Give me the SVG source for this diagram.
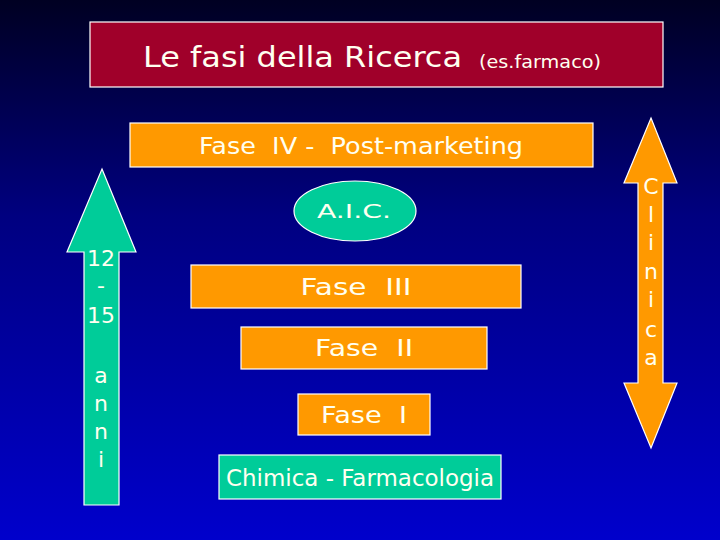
<svg xmlns="http://www.w3.org/2000/svg" width="720" height="540" viewBox="0 0 720 540">
<defs>
<linearGradient id="bg" x1="0" y1="0" x2="0" y2="1">
<stop offset="0" stop-color="#000022"/>
<stop offset="0.4" stop-color="#000080"/>
<stop offset="1" stop-color="#0000CC"/>
</linearGradient>
<style>
.t{font-family:"Comic Sans MS","DejaVu Sans",sans-serif;fill:#FFFFF0;text-anchor:middle}
.box{stroke:#FFFFFF;stroke-width:1.2}
.or{fill:#FF9900}
.gr{fill:#00CC99}
</style>
</defs>
<rect width="720" height="540" fill="url(#bg)"/>
<g id="title">
<rect class="box" x="90" y="22" width="573" height="65" fill="#A0002A"/>
<text class="t" x="302.5" y="67" font-size="29" textLength="319" lengthAdjust="spacingAndGlyphs">Le fasi della Ricerca</text>
<text class="t" x="540" y="68" font-size="18" textLength="122" lengthAdjust="spacingAndGlyphs">(es.farmaco)</text>
</g>
<g id="fase4">
<rect class="box or" x="130" y="123" width="463" height="44"/>
<text class="t" x="361" y="154" font-size="22.5" xml:space="preserve" textLength="324" lengthAdjust="spacingAndGlyphs">Fase  IV -  Post-marketing</text>
</g>
<g id="aic">
<ellipse class="box gr" cx="355" cy="211" rx="61" ry="30"/>
<text class="t" x="354" y="218" font-size="20" textLength="74" lengthAdjust="spacingAndGlyphs">A.I.C.</text>
</g>
<g id="fase3">
<rect class="box or" x="191" y="265" width="330" height="43"/>
<text class="t" x="356" y="295" font-size="22.5" xml:space="preserve" textLength="111" lengthAdjust="spacingAndGlyphs">Fase  III</text>
</g>
<g id="fase2">
<rect class="box or" x="241" y="327" width="246" height="42"/>
<text class="t" x="364" y="356" font-size="22.5" xml:space="preserve" textLength="98" lengthAdjust="spacingAndGlyphs">Fase  II</text>
</g>
<g id="fase1">
<rect class="box or" x="298" y="394" width="132" height="41"/>
<text class="t" x="364" y="423" font-size="22.5" xml:space="preserve" textLength="86" lengthAdjust="spacingAndGlyphs">Fase  I</text>
</g>
<g id="chimica">
<rect class="box gr" x="219" y="455" width="282" height="44"/>
<text class="t" x="360" y="486" font-size="22.5" textLength="268" lengthAdjust="spacingAndGlyphs">Chimica - Farmacologia</text>
</g>
<g id="anni">
<polygon class="box gr" points="102,169 136,252 119,252 119,505 84,505 84,252 67,252"/>
<g class="t" font-size="22">
<text x="101" y="266">12</text>
<text x="101" y="293">-</text>
<text x="101" y="323">15</text>
<text x="101" y="383">a</text>
<text x="101" y="411">n</text>
<text x="101" y="439">n</text>
<text x="101" y="467">i</text>
</g>
</g>
<g id="clinica">
<polygon class="box or" points="651,118 677,183 663,183 663,383 677,383 651,448 624,383 638,383 638,183 624,183"/>
<g class="t" font-size="22">
<text x="651" y="194">C</text>
<text x="651" y="222">l</text>
<text x="651" y="250">i</text>
<text x="651" y="279">n</text>
<text x="651" y="307">i</text>
<text x="651" y="337">c</text>
<text x="651" y="365">a</text>
</g>
</g>
<g id="connectors"></g>
</svg>
